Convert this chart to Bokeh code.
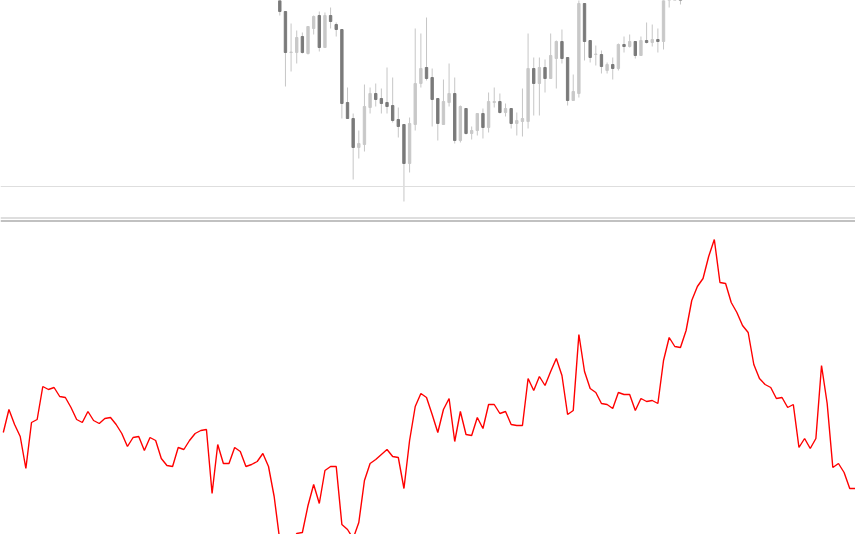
from bokeh.plotting import figure
from bokeh.layouts import column
from bokeh.models import Range1d, Span, ColumnDataSource
from bokeh.embed import file_html
from bokeh.resources import INLINE

# ---- price pane (candles), bar index 0..71 ----
bars = list(range(0, 72))
opens = [221, 205, 164, 164, 180, 163, 188, 201, 169, 201,
         192, 187, 114, 98, 69, 72, 109, 123, 118, 114,
         111, 97, 92, 53, 92, 133, 149, 139, 118, 92,
         114, 123, 76, 108, 83, 86, 103, 89, 114, 115,
         104, 108, 93, 95, 95, 148, 133, 149, 138, 158,
         175, 159, 116, 123, 213, 176, 162, 162, 146, 152,
         148, 172, 170, 175, 161, 176, 174, 177, 175, 226,
         250, 236]
closes = [205, 164, 164.5, 179, 164, 190, 200, 169, 201, 195,
          187, 113, 98, 69, 73, 110, 123, 117, 113, 110,
          96, 90, 53, 93, 133, 148, 138, 117, 93, 115,
          123, 76, 110, 83, 86, 103, 89, 115, 115, 104,
          108, 93, 96, 98, 148, 133, 149, 138, 161, 175,
          158, 116, 125, 213, 175, 159, 162.5, 150, 152, 148,
          172, 170, 175, 161, 176, 174, 177, 175, 236, 256,
          262, 221]
highs = [226, 205, 193, 186, 184, 190, 201, 205, 204, 209,
         194, 187, 129, 103, 86, 132, 129, 133, 128, 149,
         139, 109, 92, 99, 188, 183, 199, 148, 118, 137,
         153, 139, 111, 108, 90, 103, 108, 124, 129, 123,
         113, 108, 104, 128, 183, 159, 159, 157, 183, 176,
         187, 159, 142, 217, 213, 176, 171, 166, 154, 159,
         173, 180, 182, 175, 180, 194, 192, 188, 241, 261,
         266, 240]
lows = [201, 130, 145, 153, 163, 162, 182, 165, 169, 188,
        180, 98, 98, 37, 58, 65, 103, 110, 103, 103,
        94, 79, 15, 44, 86, 129, 136, 90, 76, 92,
        110, 73, 74, 82, 77, 81, 78, 84, 109, 103,
        100, 88, 81, 80, 88, 101, 101, 124, 138, 128,
        153, 111, 116, 119, 156, 154, 151, 143, 143, 137,
        146, 164, 169, 158, 161, 173, 170, 164, 167, 209,
        240, 212]
level = 30

# ---- indicator pane, bar index -49..102 ----
ind_bars = list(range(-49, 103))
ind_values = [102, 125, 110, 98, 66, 112, 115, 148, 145, 147,
              138, 137, 127, 115, 112, 123, 114, 111, 116, 117,
              110, 101, 88, 97, 98, 84, 97, 94, 76, 69,
              68, 87, 85, 94, 101, 104, 105, 41, 90, 71,
              71, 87, 83, 68, 70, 73, 81, 68, 38,
              -6, -14, -11, 1, 2, 29, 50, 31, 64, 68,
              68, 10, 5, -4, 12, 54, 71, 75, 80, 85,
              78, 77, 46, 94, 128, 141, 137, 120, 102, 125,
              136, 93, 123, 100, 99, 117, 106, 130, 130, 121,
              123, 110, 109, 109, 156, 144, 158, 149, 163, 176,
              159, 120, 124, 200, 163, 146, 142, 131, 130, 126,
              142, 140, 140, 124, 136, 133, 134, 131, 174, 197,
              188, 187, 204, 234, 248, 256, 278, 295, 252, 251,
              232, 222, 209, 202, 170, 156, 150, 147, 136, 137,
              127, 130, 87, 96, 86, 96, 169, 131, 67, 71,
              62, 46, 46]

UP = "#c8c8c8"
DOWN = "#7a7a7a"
WICK = "#c6c6c6"

src = ColumnDataSource(dict(
    x=bars,
    high=highs,
    low=lows,
    top=[max(o, c) for o, c in zip(opens, closes)],
    bottom=[min(o, c) for o, c in zip(opens, closes)],
    color=[UP if c >= o else DOWN for o, c in zip(opens, closes)],
))

xr = Range1d(-49.495, 102.02)

top = figure(width=855, height=216, x_range=xr, y_range=Range1d(0, 216),
             output_backend="svg", toolbar_location=None, min_border=0,
             x_axis_location=None, y_axis_location=None,
             background_fill_color="white", border_fill_color="white")
top.grid.visible = False
top.outline_line_color = None
top.add_layout(Span(location=level, dimension="width", line_color="#dedede", line_width=1))
top.segment(x0="x", y0="low", x1="x", y1="high", line_color=WICK, line_width=1, source=src)
top.vbar(x="x", top="top", bottom="bottom", width=0.42, fill_color="color",
         line_color="color", line_width=1, source=src)

bot = figure(width=855, height=318, x_range=xr, y_range=Range1d(0, 318),
             output_backend="svg", toolbar_location=None, min_border=0,
             x_axis_location=None, y_axis_location=None,
             background_fill_color="white", border_fill_color="white")
bot.grid.visible = False
bot.outline_line_color = None
bot.add_layout(Span(location=316.5, dimension="width", line_color="#bdbdbd", line_width=1))
bot.add_layout(Span(location=313.5, dimension="width", line_color="#adadad", line_width=1.5))
bot.line(ind_bars, ind_values, line_color="#ff0000", line_width=1.4)

layout = column(top, bot, spacing=0)

open("out.html", "w").write(file_html(layout, INLINE))
